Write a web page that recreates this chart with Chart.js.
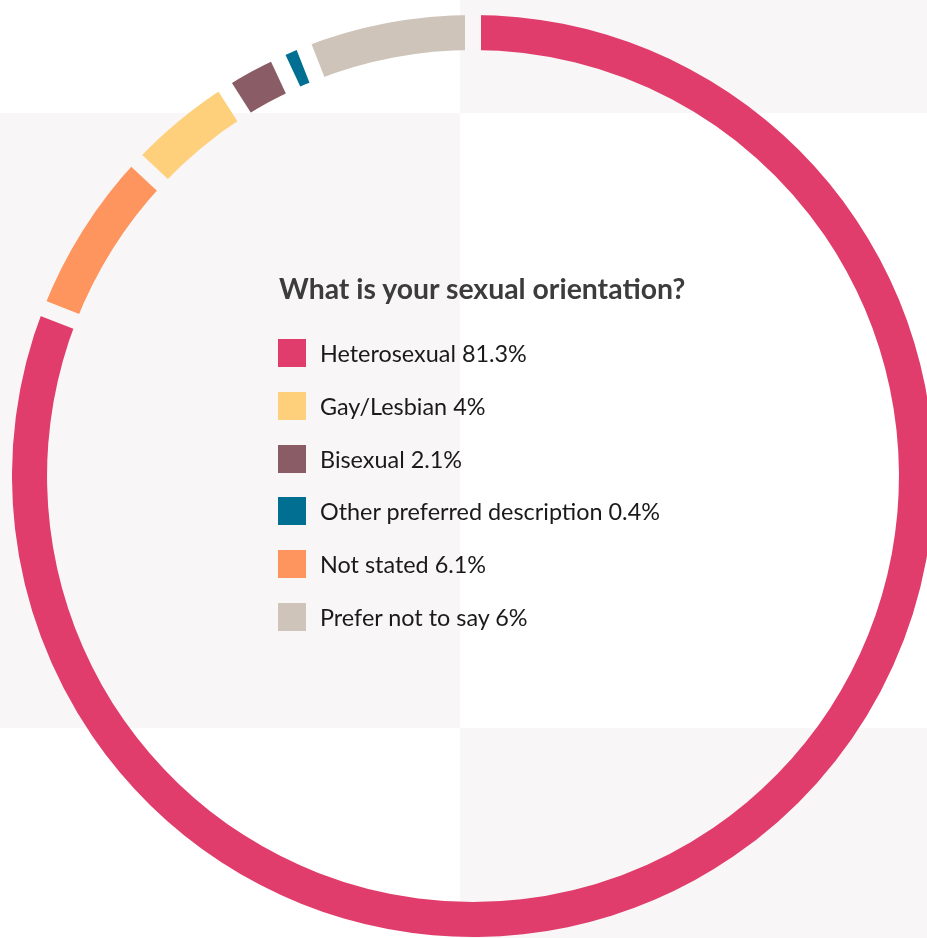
<!DOCTYPE html>
<html>
<head>
<meta charset="utf-8">
<script src="https://cdn.jsdelivr.net/npm/chart.js@4.4.1/dist/chart.umd.min.js"></script>
<style>
  html, body { margin: 0; padding: 0; width: 927px; height: 938px; overflow: hidden; background: #ffffff; font-family: Lato, "Noto Sans", sans-serif; }
  .bg { position: absolute; background: #f8f6f7; }
  #wrap { position: absolute; left: 12px; top: 15px; width: 922px; height: 922px; }
  #title { position: absolute; left: 279px; top: 271px; margin: 0; font-size: 28.4px; font-weight: 700; color: #3c3c3c; line-height: 1.2; white-space: nowrap; }
  .item { position: absolute; left: 278px; display: flex; align-items: center; height: 28px; font-size: 23.4px; color: #1a1a1a; white-space: nowrap; }
  .sw { width: 28px; height: 28px; margin-right: 14px; flex: none; }
</style>
</head>
<body>
<div class="bg" style="left:460px; top:0; width:467px; height:113px;"></div>
<div class="bg" style="left:0; top:113px; width:460px; height:615px;"></div>
<div class="bg" style="left:460px; top:728px; width:467px; height:210px;"></div>
<div id="wrap"><canvas id="c" width="922" height="922"></canvas></div>
<h2 id="title"></h2>
<script>
const title = "What is your sexual orientation?";
const categories = ["Heterosexual", "Not stated", "Gay/Lesbian", "Bisexual", "Other preferred description", "Prefer not to say"];
const values = [81.3, 6.1, 4, 2.1, 0.4, 6];
const colors = ["#e03d6c", "#ff955e", "#ffd07b", "#8a5d66", "#006f91", "#cfc4b9"];
const legendOrder = ["Heterosexual", "Gay/Lesbian", "Bisexual", "Other preferred description", "Not stated", "Prefer not to say"];

// give very small slices a minimum angle (others shrink proportionally), like a pie "minAngle"
const minAnglePlugin = {
  id: 'minAngle',
  beforeDatasetsDraw(chart, args, opts) {
    const meta = chart.getDatasetMeta(0);
    const arcs = meta.data;
    const vals = chart.data.datasets[0].data;
    const sum = vals.reduce((a, b) => a + b, 0);
    const minA = opts.degrees * Math.PI / 180;
    const spans = vals.map(v => v / sum * 2 * Math.PI);
    const small = spans.map(s => s < minA);
    const fixed = small.reduce((a, s) => a + (s ? minA : 0), 0);
    const rest = spans.reduce((a, s, i) => a + (small[i] ? 0 : s), 0);
    const k = (2 * Math.PI - fixed) / rest;
    let cur = -Math.PI / 2;
    arcs.forEach((arc, i) => {
      const span = small[i] ? minA : spans[i] * k;
      arc.startAngle = cur;
      arc.endAngle = cur + span;
      arc.circumference = span;
      cur += span;
    });
  }
};

// cuts transparent, parallel-sided gaps between neighbouring arcs
const gapPlugin = {
  id: 'gaps',
  afterDatasetsDraw(chart, args, opts) {
    const meta = chart.getDatasetMeta(0);
    const ctx = chart.ctx;
    ctx.save();
    ctx.globalCompositeOperation = 'destination-out';
    ctx.strokeStyle = '#000';
    ctx.lineWidth = opts.width;
    meta.data.forEach(arc => {
      const {x, y, startAngle, outerRadius, innerRadius} = arc;
      ctx.beginPath();
      ctx.moveTo(x + Math.cos(startAngle) * (innerRadius - 5), y + Math.sin(startAngle) * (innerRadius - 5));
      ctx.lineTo(x + Math.cos(startAngle) * (outerRadius + 5), y + Math.sin(startAngle) * (outerRadius + 5));
      ctx.stroke();
    });
    ctx.restore();
  }
};

const chart = new Chart(document.getElementById('c'), {
  type: 'doughnut',
  data: {
    labels: categories,
    datasets: [{
      data: values,
      backgroundColor: colors,
      borderWidth: 0
    }]
  },
  options: {
    responsive: false,
    animation: false,
    cutout: '92.4%',
    layout: { padding: 0 },
    plugins: {
      legend: { display: false },
      tooltip: { enabled: false },
      minAngle: { degrees: 3.5 },
      gaps: { width: 16 }
    }
  },
  plugins: [minAnglePlugin, gapPlugin]
});

document.getElementById('title').textContent = title;
const rowCenter0 = 353, rowStep = 52.8;
legendOrder.forEach((name, k) => {
  const i = categories.indexOf(name);
  const row = document.createElement('div');
  row.className = 'item';
  row.style.top = (rowCenter0 - 14 + k * rowStep) + 'px';
  const sw = document.createElement('span');
  sw.className = 'sw';
  sw.style.background = colors[i];
  const t = document.createElement('span');
  t.textContent = name + ' ' + values[i] + '%';
  row.appendChild(sw);
  row.appendChild(t);
  document.body.appendChild(row);
});
</script>
</body>
</html>
